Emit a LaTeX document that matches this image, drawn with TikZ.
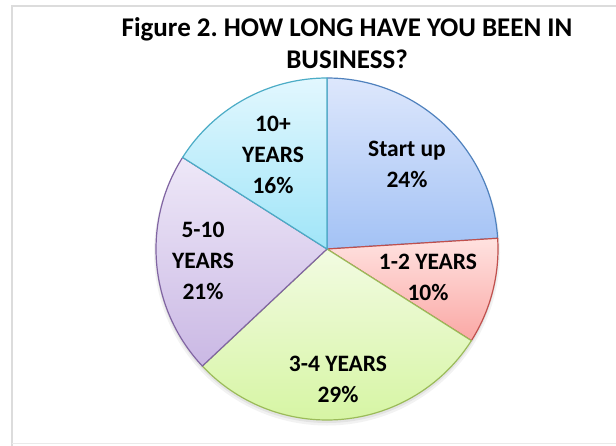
\documentclass[tikz,border=0pt]{standalone}
\usepackage{fontspec}
\setmainfont{Carlito}
\frenchspacing
\definecolor{suTop}{RGB}{221,231,252}
\definecolor{suBot}{RGB}{163,194,245}
\definecolor{suLine}{RGB}{79,129,189}
\definecolor{onTop}{RGB}{255,226,224}
\definecolor{onBot}{RGB}{250,168,165}
\definecolor{onLine}{RGB}{192,80,77}
\definecolor{thTop}{RGB}{242,251,226}
\definecolor{thBot}{RGB}{214,245,163}
\definecolor{thLine}{RGB}{155,187,89}
\definecolor{fiTop}{RGB}{238,232,248}
\definecolor{fiBot}{RGB}{202,184,228}
\definecolor{fiLine}{RGB}{128,100,162}
\definecolor{teTop}{RGB}{226,247,254}
\definecolor{teBot}{RGB}{160,229,248}
\definecolor{teLine}{RGB}{75,172,198}
\definecolor{frameGray}{RGB}{220,220,220}
\tikzset{
  lbl/.style={font=\bfseries\fontsize{23.5}{31}\selectfont, align=center, inner sep=0pt},
  ttl/.style={font=\bfseries\fontsize{27}{32}\selectfont, align=center, inner sep=0pt},
  edge/.style={line width=1.2pt, line join=round}
}
\begin{document}
\begin{tikzpicture}[x=1pt,y=-1pt]
\useasboundingbox (0,0) rectangle (616,445);
\fill[white] (0,0) rectangle (616,445);
\draw[frameGray, line width=2pt] (11.5,446) -- (11.5,5.5) -- (617,5.5);
\draw[frameGray!60, line width=1pt] (11.5,443.5) -- (617,443.5);
% shadow
\fill[black, opacity=0.05] (327,252.5) circle (173);
\fill[black, opacity=0.06] (327,251.5) circle (171.5);
\begin{scope}[shift={(327,249)}, x=1pt, y=1pt]
  \def\R{171}
  \shade[top color=suTop, bottom color=suBot] (0,0) -- (90:\R) arc[start angle=90, end angle=3.6, radius=\R] -- cycle;
  \draw[edge, suLine] (0,0) -- (90:\R) arc[start angle=90, end angle=3.6, radius=\R] -- cycle;
  \shade[top color=onTop, bottom color=onBot] (0,0) -- (3.6:\R) arc[start angle=3.6, end angle=-32.4, radius=\R] -- cycle;
  \draw[edge, onLine] (0,0) -- (3.6:\R) arc[start angle=3.6, end angle=-32.4, radius=\R] -- cycle;
  \shade[top color=thTop, bottom color=thBot] (0,0) -- (-32.4:\R) arc[start angle=-32.4, end angle=-136.8, radius=\R] -- cycle;
  \draw[edge, thLine] (0,0) -- (-32.4:\R) arc[start angle=-32.4, end angle=-136.8, radius=\R] -- cycle;
  \shade[top color=fiTop, bottom color=fiBot] (0,0) -- (-136.8:\R) arc[start angle=-136.8, end angle=-212.4, radius=\R] -- cycle;
  \draw[edge, fiLine] (0,0) -- (-136.8:\R) arc[start angle=-136.8, end angle=-212.4, radius=\R] -- cycle;
  \shade[top color=teTop, bottom color=teBot] (0,0) -- (147.6:\R) arc[start angle=147.6, end angle=90, radius=\R] -- cycle;
  \draw[edge, teLine] (0,0) -- (147.6:\R) arc[start angle=147.6, end angle=90, radius=\R] -- cycle;
\end{scope}
\node[ttl] (title) at (347,43) {Figure 2. HOW LONG HAVE YOU BEEN IN\\BUSINESS?};
\node[lbl] (su) at (407,164) {Start up\\24\%};
\node[lbl] (one) at (428,277) {1-2 YEARS\\10\%};
\node[lbl] (three) at (338,379) {3-4 YEARS\\29\%};
\node[lbl] (five) at (203,261) {5-10\\YEARS\\21\%};
\node[lbl] (ten) at (273,155) {10+\\YEARS\\16\%};
\end{tikzpicture}
\end{document}
